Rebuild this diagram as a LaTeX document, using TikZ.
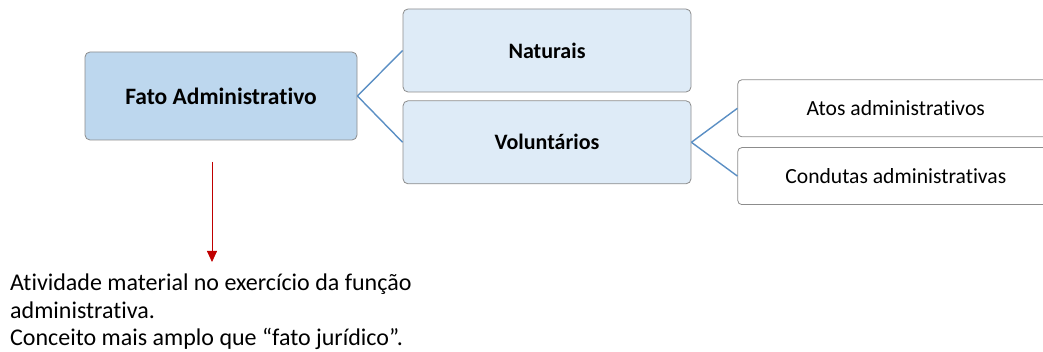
\documentclass[tikz,border=0pt]{standalone}
\usepackage{fontspec}
\setmainfont{Carlito}[RawFeature=-liga]
\usetikzlibrary{arrows.meta,positioning}

\definecolor{rootfill}{HTML}{BDD7EE}
\definecolor{branchfill}{HTML}{DEEBF7}
\definecolor{boxline}{HTML}{8C8C8C}
\definecolor{linkblue}{HTML}{5B8FC4}
\definecolor{arrowred}{HTML}{C00000}

\begin{document}
\begin{tikzpicture}[
  x=1pt,y=1pt,
  root/.style={draw=boxline,rounded corners=5pt,fill=rootfill,line width=0.8pt,
    align=center,minimum width=272pt,minimum height=88pt,
    font=\fontsize{23.5}{26}\selectfont\bfseries},
  branch/.style={draw=boxline,rounded corners=5pt,fill=branchfill,line width=0.8pt,
    align=center,minimum width=288pt,minimum height=83pt,
    font=\fontsize{22}{26}\selectfont\bfseries},
  leaf/.style={draw=boxline,rounded corners=4pt,fill=white,line width=0.8pt,
    align=center,minimum width=316pt,minimum height=57pt,inner xsep=0pt,
    font=\fontsize{21.6}{26}\selectfont},
  link/.style={draw=linkblue,line width=1.4pt},
  arrow/.style={-{Triangle[length=11pt,width=10pt]},draw=arrowred,fill=arrowred,line width=0.8pt}
]
  \clip (0,0) rectangle (1043,-352);
  \useasboundingbox (0,0) rectangle (1043,-352);

  \node[root] (fato) at (221,-96) {Fato Administrativo};
  \node[branch] (naturais) at (547,-50.5) {Naturais};
  \node[branch,below=8pt of naturais] (voluntarios) {Volunt\'arios};

  % the leaves run past the right edge of the picture
  \node[leaf,anchor=west] (atos) at ([xshift=46pt,yshift=34pt]voluntarios.east) {Atos administrativos};
  \node[leaf,below=10pt of atos] (condutas) {Condutas administrativas};

  \node[align=left,anchor=north west,inner sep=0pt,
    font=\fontsize{24}{27.5}\selectfont] (nota) at (10,-274)
    {Atividade material no exerc\'icio da fun\c{c}\~ao\\
     administrativa.\\
     Conceito mais amplo que “fato jur\'idico”.};

  \draw[link] (fato.east) -- (naturais.west);
  \draw[link] (fato.east) -- (voluntarios.west);
  \draw[link] (voluntarios.east) -- (atos.west);
  \draw[link] (voluntarios.east) -- (condutas.west);

  \coordinate (topo) at (212,-162);
  \draw[arrow] (topo) -- (topo |- 0,-262);
\end{tikzpicture}
\end{document}
